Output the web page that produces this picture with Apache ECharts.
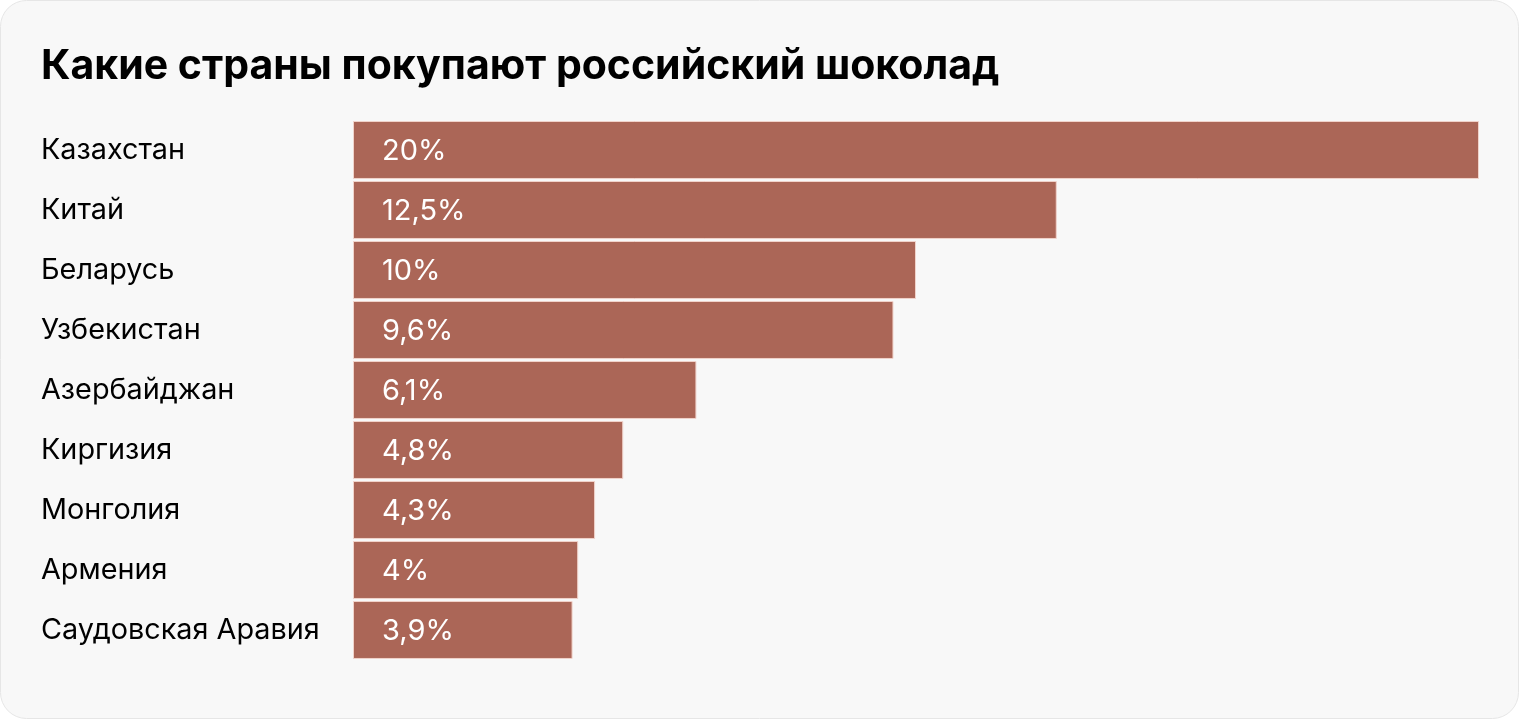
<!DOCTYPE html>
<html><head><meta charset="utf-8">
<script src="https://cdn.jsdelivr.net/npm/echarts@6/dist/echarts.min.js"></script>
<style>html,body{margin:0;padding:0;background:#fff;}#c{width:1520px;height:720px;}</style>
</head><body><div id="c"></div>
<script>
const titleText = 'Какие страны покупают российский шоколад';
const categories = ['Казахстан','Китай','Беларусь','Узбекистан','Азербайджан','Киргизия','Монголия','Армения','Саудовская Аравия'];
const values = [20, 12.5, 10, 9.6, 6.1, 4.8, 4.3, 4, 3.9];
const labels = ['20%','12,5%','10%','9,6%','6,1%','4,8%','4,3%','4%','3,9%'];

const chart = echarts.init(document.getElementById('c'), null, {renderer:'canvas'});
chart.setOption({
  animation:false,
  graphic:[{type:'rect', z:-10, shape:{x:0.5,y:0.5,width:1518,height:718,r:26}, style:{fill:'#f8f8f8', stroke:'#e6e6e6', lineWidth:1}}],
  title:{text:titleText, left:36, top:41, textStyle:{fontFamily:'Inter', fontWeight:'bold', fontSize:41, color:'#000'}},
  grid:{left:353, right:41, top:120, bottom:60, containLabel:false},
  xAxis:{type:'value', min:0, max:20, show:false},
  yAxis:{type:'category', data:categories, inverse:true,
    axisLine:{show:false}, axisTick:{show:false}, splitLine:{show:false},
    axisLabel:{align:'left', margin:312, fontFamily:'Inter', fontSize:28.8, color:'#000', padding:[4,0,0,0]}},
  series:[{type:'bar', data:values, barCategoryGap:'3.4%',
    itemStyle:{color:'#ab6657', borderColor:'#f1d3cb', borderWidth:1},
    label:{show:true, position:'insideLeft', offset:[24,1], fontFamily:'Inter', fontSize:29, color:'#fff',
      formatter:p=>labels[p.dataIndex]}}]
});
</script></body></html>
